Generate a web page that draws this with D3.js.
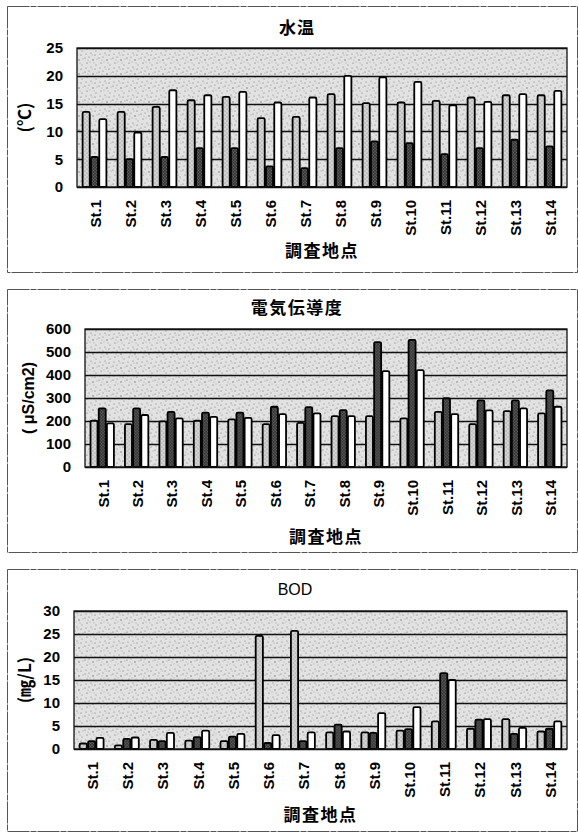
<!DOCTYPE html>
<html>
<head>
<meta charset="utf-8">
<script src="https://cdn.jsdelivr.net/npm/d3@7/dist/d3.min.js"></script>
<style>
  html, body { margin: 0; padding: 0; background: #fff; }
  svg { display: block; }
</style>
</head>
<body>
<div id="chart"></div>
<script>
// =========================
// DATA
// =========================
const stations = ["St.1", "St.2", "St.3", "St.4", "St.5", "St.6", "St.7",
                  "St.8", "St.9", "St.10", "St.11", "St.12", "St.13", "St.14"];

// 水温 (°C)
const tempA = [13.5, 13.5, 14.4, 15.6, 16.2, 12.4, 12.6, 16.7, 15.1, 15.2, 15.5, 16.1, 16.5, 16.5];
const tempB = [5.4, 5.0, 5.4, 7.0, 7.0, 3.7, 3.4, 7.0, 8.2, 7.9, 5.9, 7.0, 8.5, 7.3];
const tempC = [12.2, 9.8, 17.4, 16.5, 17.1, 15.2, 16.1, 20.0, 19.7, 18.9, 14.7, 15.3, 16.7, 17.3];
const tempTicks = [0, 5, 10, 15, 20, 25];

// 電気伝導度 (μS/cm2)
const ecA = [201, 186, 198, 201, 207, 186, 192, 221, 221, 211, 240, 186, 243, 233];
const ecB = [255, 255, 240, 236, 236, 262, 260, 247, 543, 553, 299, 290, 290, 333];
const ecC = [190, 226, 211, 218, 214, 230, 233, 221, 417, 421, 230, 246, 255, 262];
const ecTicks = [0, 100, 200, 300, 400, 500, 600];

// BOD (mg/L)
const bodA = [1.2, 0.8, 2.0, 1.8, 1.7, 24.6, 25.7, 3.6, 3.6, 4.0, 6.0, 4.4, 6.5, 3.8];
const bodB = [1.7, 2.2, 1.7, 2.6, 2.7, 1.3, 1.7, 5.3, 3.5, 4.3, 16.5, 6.4, 3.3, 4.4];
const bodC = [2.4, 2.5, 3.5, 4.0, 3.3, 3.0, 3.6, 3.8, 7.8, 9.1, 15.0, 6.5, 4.6, 6.0];
const bodTicks = [0, 5, 10, 15, 20, 25, 30];

const seriesKeys = ["a", "b", "c"];
const xTitle = "調査地点";

// =========================
// SETUP
// =========================
const W = 578, H = 833;
const svg = d3.select("#chart").append("svg")
    .attr("width", W)
    .attr("height", H);

const latin = "'Liberation Sans', Arial, sans-serif";
const cjk = "'Noto Sans CJK JP', 'Noto Sans', sans-serif";

// textures (fixed dot layouts, purely decorative)
const defs = svg.append("defs");

function dotPattern(id, size, base, dotColor, dots) {
    const p = defs.append("pattern")
        .attr("id", id)
        .attr("patternUnits", "userSpaceOnUse")
        .attr("width", size)
        .attr("height", size);
    p.append("rect").attr("width", size).attr("height", size).attr("fill", base);
    dots.forEach(([x, y, r]) => {
        p.append("circle").attr("cx", x).attr("cy", y).attr("r", r).attr("fill", dotColor);
    });
}

dotPattern("bg", 14, "#e2e2e2", "#6a6a6a",
    [[1, 2, 0.6], [5, 1, 0.5], [9, 4, 0.7], [12, 9, 0.5], [3, 7, 0.6],
     [7, 11, 0.5], [11, 13, 0.6], [2, 12, 0.5], [6, 6, 0.45], [13, 3, 0.45],
     [4, 4, 0.4], [10, 7, 0.45], [8, 13, 0.4]]);
dotPattern("fillA", 4, "#d4d4d4", "#707070", [[1, 1, 0.5], [3, 3, 0.5]]);
dotPattern("fillB", 3, "#383838", "#959595", [[1, 1, 0.5], [2.5, 2.5, 0.4]]);

const fills = { a: "url(#fillA)", b: "url(#fillB)", c: "#ffffff" };

// =========================
// PANEL
// =========================
function drawPanel(cfg) {
    const g = svg.append("g");

    // outer chart frame
    g.append("rect")
        .attr("x", cfg.box[0] + 0.5)
        .attr("y", cfg.box[1] + 0.5)
        .attr("width", cfg.box[2] - cfg.box[0])
        .attr("height", cfg.box[3] - cfg.box[1])
        .attr("fill", "none")
        .attr("stroke", "#555")
        .attr("stroke-width", 1)
        .attr("stroke-dasharray", "22,1,6,1");

    const x0 = d3.scaleBand()
        .domain(stations)
        .range([cfg.left, cfg.right])
        .paddingInner(0.286)
        .paddingOuter(0.143);

    const x1 = d3.scaleBand()
        .domain(seriesKeys)
        .range([0, x0.bandwidth()]);

    const y = d3.scaleLinear()
        .domain([0, d3.max(cfg.ticks)])
        .range([cfg.bottom, cfg.top]);

    // plot background
    g.append("rect")
        .attr("x", cfg.left)
        .attr("y", cfg.top)
        .attr("width", cfg.right - cfg.left)
        .attr("height", cfg.bottom - cfg.top)
        .attr("fill", "url(#bg)");

    // gridlines
    g.selectAll(".grid")
        .data(cfg.ticks)
        .enter()
        .append("line")
        .attr("x1", cfg.left)
        .attr("x2", cfg.right)
        .attr("y1", d => Math.round(y(d)) + 0.5)
        .attr("y2", d => Math.round(y(d)) + 0.5)
        .attr("stroke", "#111")
        .attr("stroke-width", 1.3);

    // bars
    const rows = stations.map((s, i) => ({
        station: s,
        values: seriesKeys.map((k, j) => ({ key: k, value: cfg.series[j][i] }))
    }));

    const groups = g.selectAll(".grp")
        .data(rows)
        .enter()
        .append("g")
        .attr("transform", d => `translate(${x0(d.station)},0)`);

    groups.selectAll("rect")
        .data(d => d.values)
        .enter()
        .append("rect")
        .attr("x", d => x1(d.key) + 0.6)
        .attr("y", d => y(d.value))
        .attr("width", x1.bandwidth() - 1.2)
        .attr("height", d => cfg.bottom - y(d.value))
        .attr("rx", 1.5)
        .attr("fill", d => fills[d.key])
        .attr("stroke", "#000")
        .attr("stroke-width", 1.8);

    // plot frame
    g.append("rect")
        .attr("x", cfg.left)
        .attr("y", cfg.top)
        .attr("width", cfg.right - cfg.left)
        .attr("height", cfg.bottom - cfg.top)
        .attr("fill", "none")
        .attr("stroke", "#111")
        .attr("stroke-width", 1.3);

    // y tick labels
    g.selectAll(".ytick")
        .data(cfg.ticks)
        .enter()
        .append("text")
        .attr("x", cfg.left - 14)
        .attr("y", d => y(d))
        .attr("dy", "0.36em")
        .attr("text-anchor", "end")
        .style("font-family", latin)
        .style("font-weight", "bold")
        .style("font-size", "15px")
        .text(d => d);

    // x tick labels (rotated)
    g.selectAll(".xtick")
        .data(stations)
        .enter()
        .append("text")
        .attr("transform", d => `translate(${x0(d) + x0.bandwidth() / 2 + 1},${cfg.bottom + 13}) rotate(-90)`)
        .attr("dy", "0.36em")
        .attr("text-anchor", "end")
        .style("font-family", latin)
        .style("font-weight", "bold")
        .style("font-size", "15px")
        .text(d => d);

    // titles
    g.append("text")
        .attr("x", cfg.titleX)
        .attr("y", cfg.titleY)
        .attr("dy", "0.36em")
        .attr("text-anchor", "middle")
        .style("font-family", cfg.titleFont)
        .style("font-weight", cfg.titleWeight)
        .style("font-size", cfg.titleSize)
        .style("letter-spacing", cfg.titleSpacing || "0px")
        .text(cfg.title);

    g.append("text")
        .attr("x", (cfg.left + cfg.right) / 2)
        .attr("y", cfg.xTitleY)
        .attr("dy", "0.36em")
        .attr("text-anchor", "middle")
        .style("font-family", cjk)
        .style("font-weight", "bold")
        .style("font-size", "17px")
        .style("letter-spacing", "1.5px")
        .text(xTitle);

    g.append("text")
        .attr("transform", `translate(${cfg.yTitleX},${(cfg.top + cfg.bottom) / 2}) rotate(-90)`)
        .attr("dy", "0.36em")
        .attr("text-anchor", "middle")
        .style("font-family", cfg.yTitleFont)
        .style("font-weight", cfg.yTitleWeight)
        .style("font-size", cfg.yTitleSize)
        .text(cfg.yTitle);
}

drawPanel({
    box: [7, 6, 577, 272],
    left: 77, right: 567, top: 48, bottom: 187,
    ticks: tempTicks,
    series: [tempA, tempB, tempC],
    title: "水温", titleX: 297, titleY: 28,
    titleFont: cjk, titleWeight: "bold", titleSize: "17px", titleSpacing: "1px",
    xTitleY: 251,
    yTitle: "(℃)", yTitleX: 25, yTitleFont: cjk, yTitleWeight: "bold", yTitleSize: "17px"
});

drawPanel({
    box: [7, 289, 577, 552],
    left: 85, right: 567, top: 329, bottom: 467,
    ticks: ecTicks,
    series: [ecA, ecB, ecC],
    title: "電気伝導度", titleX: 297, titleY: 308,
    titleFont: cjk, titleWeight: "bold", titleSize: "17px", titleSpacing: "1.5px",
    xTitleY: 537,
    yTitle: "( μS/cm2)", yTitleX: 28, yTitleFont: latin, yTitleWeight: "bold", yTitleSize: "16px"
});

drawPanel({
    box: [7, 569, 577, 831],
    left: 74, right: 567, top: 611, bottom: 749,
    ticks: bodTicks,
    series: [bodA, bodB, bodC],
    title: "BOD", titleX: 295, titleY: 589,
    titleFont: latin, titleWeight: "normal", titleSize: "16px",
    xTitleY: 815,
    yTitle: "(㎎/L)", yTitleX: 25, yTitleFont: cjk, yTitleWeight: "bold", yTitleSize: "17px"
});
</script>
</body>
</html>
